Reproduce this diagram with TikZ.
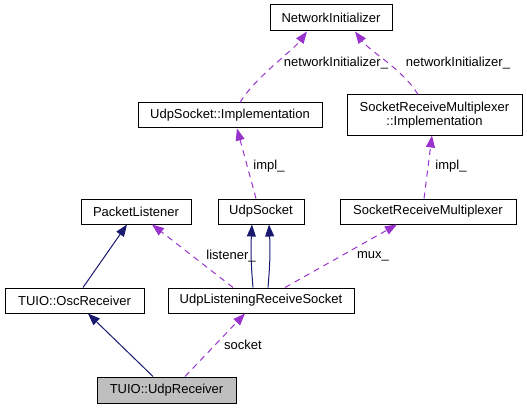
\documentclass[tikz,border=0pt]{standalone}
\usepackage{fontspec}
\setmainfont{Liberation Sans}
\usetikzlibrary{arrows.meta}
\definecolor{navyedge}{HTML}{191970}
\definecolor{purpedge}{HTML}{9A32CD}
\definecolor{grayfill}{HTML}{BFBFBF}
\tikzset{
  cls/.style={draw=black, line width=1pt, fill=white, inner sep=0pt, minimum height=25pt, font=\fontsize{13}{14.5}\selectfont, align=center},
  inherit/.style={draw=navyedge, line width=1pt, -{Triangle[length=12pt,width=9pt]}},
  usage/.style={draw=purpedge, line width=1pt, dash pattern=on 6pt off 5pt, -{Triangle[length=12pt,width=9pt]}},
  elabel/.style={font=\fontsize{13}{14}\selectfont, inner sep=0pt}
}
\begin{document}
\begin{tikzpicture}[x=1pt,y=-1pt]
\useasboundingbox (0,0) rectangle (527,409);
\node[cls, minimum width=122pt, minimum height=26pt] (ni) at (331,18) {NetworkInitializer};
\node[cls, minimum width=184pt] (usi) at (230,115.5) {UdpSocket::Implementation};
\node[cls, minimum width=175pt, minimum height=40pt] (srmi) at (434.5,115) {SocketReceiveMultiplexer\\::Implementation};
\node[cls, minimum width=110pt] (pl) at (136,211.5) {PacketListener};
\node[cls, minimum width=86pt] (us) at (261,211.5) {UdpSocket};
\node[cls, minimum width=176pt] (srm) at (428,211.5) {SocketReceiveMultiplexer};
\node[cls, minimum width=139pt] (or) at (74.5,300.5) {TUIO::OscReceiver};
\node[cls, minimum width=186pt] (ulrs) at (261,300.5) {UdpListeningReceiveSocket};
\node[cls, minimum width=139pt, minimum height=26pt, fill=grayfill] (ur) at (166.5,390) {TUIO::UdpReceiver};

\draw[inherit] ([xshift=-13.5pt]ur.north) -- ([xshift=13.5pt]or.south);
\draw[usage] ([xshift=18.5pt]ur.north) -- ([xshift=-16pt]ulrs.south);
\draw[inherit] ([xshift=8.5pt]or.north) -- ([xshift=-9pt]pl.south);
\draw[inherit] ([xshift=-8pt]ulrs.north) to[bend left=4] ([xshift=-9pt]us.south);
\draw[inherit] ([xshift=7pt]ulrs.north) to[bend right=4] ([xshift=8pt]us.south);
\draw[usage] ([xshift=-28pt]ulrs.north) -- ([xshift=16pt]pl.south);
\draw[usage] ([xshift=24pt]ulrs.north) -- ([xshift=-31pt]srm.south);
\draw[usage] ([xshift=-5pt]us.north) -- ([xshift=7pt]usi.south);
\draw[usage] ([xshift=-4pt]srm.north) -- ([xshift=-2.5pt]srmi.south);
\draw[usage] ([xshift=10pt]usi.north) .. controls +(15,-25) and +(-15,20) .. ([xshift=-24pt]ni.south);
\draw[usage] ([xshift=-16.5pt]srmi.north) .. controls +(-15,-25) and +(15,20) .. ([xshift=24pt]ni.south);

\node[elabel] (l1) at (336,63) {networkInitializer\_};
\node[elabel] (l2) at (458,63) {networkInitializer\_};
\node[elabel] (l3) at (269,166) {impl\_};
\node[elabel] (l4) at (451,166) {impl\_};
\node[elabel] (l5) at (231,256) {listener\_};
\node[elabel] (l6) at (373,256) {mux\_};
\node[elabel] (l7) at (243,345) {socket};
\end{tikzpicture}
\end{document}
